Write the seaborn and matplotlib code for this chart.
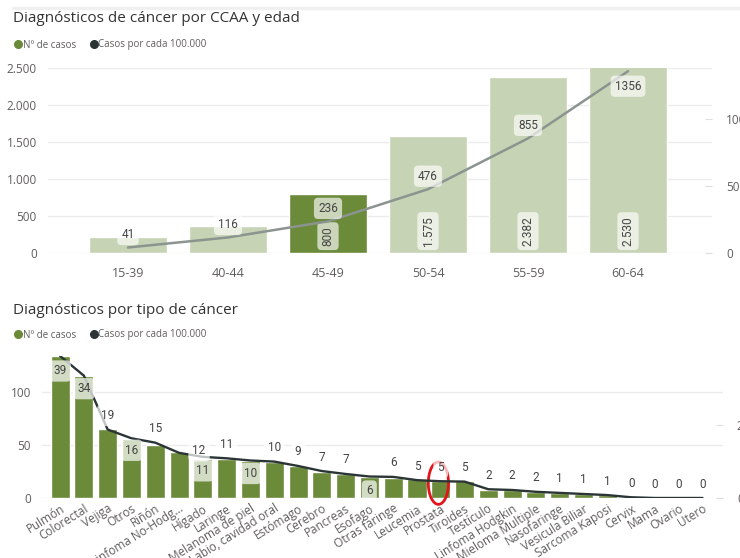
import numpy as np
import matplotlib
matplotlib.use('Agg')
import matplotlib.pyplot as plt
import seaborn as sns
from matplotlib.patches import Ellipse
from matplotlib.lines import Line2D

# Datos: diagnósticos por edad
edades = ['15-39', '40-44', '45-49', '50-54', '55-59', '60-64']
casos_edad = [220, 365, 800, 1575, 2382, 2530]
tasa_edad = [41, 116, 236, 476, 855, 1356]

# Datos: diagnósticos por tipo de cáncer
tipos = ['Pulmón', 'Colorectal', 'Vejiga', 'Otros', 'Riñón', 'Linfoma No-Hodg…', 'Hígado',
         'Laringe', 'Melanoma de piel', 'Labio, cavidad oral', 'Estómago', 'Cerebro',
         'Pancreas', 'Esofago', 'Otras faringe', 'Leucemia', 'Prostata', 'Tiroides',
         'Testículo', 'Linfoma Hodgkin', 'Mieloma Multiple', 'Nasofaringe', 'Vesicula Biliar',
         'Sarcoma Kaposi', 'Cervix', 'Mama', 'Ovario', 'Utero']
casos_tipo = [134, 115, 65, 56, 50, 43, 37, 37, 35, 34, 30, 25, 23, 20, 19, 18, 16, 16,
              8, 8, 6, 5, 4, 3, 0, 0, 0, 0]
tasa_tipo = [39.0, 33.6, 18.8, 16.4, 15.2, 12.4, 11.3, 10.9, 10.3, 10.0, 8.8, 7.4, 6.6,
             5.9, 5.8, 4.9, 4.6, 4.5, 2.4, 2.2, 1.7, 1.4, 1.1, 0.8, 0.2, 0.0, 0.0, 0.0]

# Estilo
VERDE = '#6b8a3a'
VERDE_CLARO = '#c6d3b4'
OSCURO = '#2b3535'
GRIS = '#605e5c'
REJILLA = '#ebebeb'
TXT_NUM = '#444444'
seleccion = '45-49'

sns.set_style('white')
plt.rcParams['font.family'] = ['Open Sans', 'DejaVu Sans']
FUENTE_NUM = ['Roboto', 'DejaVu Sans']

W, H = 740, 558
fig = plt.figure(figsize=(W / 100, H / 100), dpi=100)


def caja(alpha=0.6):
    return dict(boxstyle='round,pad=0.35,rounding_size=0.35', fc='white', ec='none', alpha=alpha)


def miles(v):
    return f'{v:,}'.replace(',', '.')


def redondeo(v):
    return str(int(v + 0.5))


def leyenda(y_px):
    handles = [Line2D([], [], marker='o', ls='', color=VERDE, ms=5.5, label='Nº de casos'),
               Line2D([], [], marker='o', ls='', color=OSCURO, ms=5.5, label='Casos por cada 100.000')]
    fig.legend(handles=handles, loc='center left', bbox_to_anchor=(15 / W, 1 - y_px / H),
               bbox_transform=fig.transFigure, ncol=2, frameon=False, fontsize=7,
               handlelength=0.6, handletextpad=0.2, columnspacing=1.5,
               borderpad=0, borderaxespad=0, labelcolor=GRIS)


def estilo_ejes(ax, axr):
    for a in (ax, axr):
        for s in a.spines.values():
            s.set_visible(False)
    ax.grid(axis='y', color=REJILLA, lw=1)
    ax.grid(axis='x', visible=False)
    ax.set_axisbelow(True)
    ax.set_xlabel('')
    ax.set_ylabel('')
    axr.set_ylabel('')
    ax.tick_params(axis='y', length=0, pad=8, labelsize=8.5, labelcolor=GRIS)
    ax.tick_params(axis='x', length=0, labelsize=8.5, labelcolor=GRIS)
    axr.tick_params(axis='y', direction='in', length=5, color='#dddddd', pad=10,
                    labelsize=8.5, labelcolor=GRIS)


# ---------- Gráfico superior: edad ----------
fig.text(13 / W, 1 - 18 / H, 'Diagnósticos de cáncer por CCAA y edad', fontsize=11,
         color='#333333', va='center')
leyenda(45)

ax1 = fig.add_axes([48 / W, 1 - 253 / H, (712 - 48) / W, 185 / H])
colores = [VERDE if e == seleccion else VERDE_CLARO for e in edades]
sns.barplot(x=edades, y=casos_edad, hue=edades, palette=colores, legend=False,
            width=0.78, saturation=1, ax=ax1)
ax1.set_xlim(-0.8, 5.84)
ax1.set_ylim(0, 2500)
ax1.set_yticks([0, 500, 1000, 1500, 2000, 2500])
ax1.set_yticklabels([miles(v) for v in [0, 500, 1000, 1500, 2000, 2500]])

ax1r = ax1.twinx()
sns.lineplot(x=np.arange(len(edades)), y=tasa_edad, ax=ax1r, color='#8c948f', lw=1.8)
ax1r.set_ylim(0, 1380)
ax1r.set_yticks([0, 500, 1000])
estilo_ejes(ax1, ax1r)
ax1.tick_params(axis='x', pad=10, labelsize=9)

for i, v in enumerate(casos_edad):
    if v > 500:
        ax1.annotate(miles(v), (i, 0), xytext=(0, 7), textcoords='offset pixels',
                     rotation=90, ha='center', va='bottom', fontsize=8.5, color=TXT_NUM,
                     family=FUENTE_NUM, bbox=caja(0.65))
for i, v in enumerate(tasa_edad):
    dy = -15 if i == len(tasa_edad) - 1 else 13
    ax1r.annotate(str(v), (i, v), xytext=(0, dy), textcoords='offset pixels',
                  ha='center', va='center', fontsize=8.5, color=TXT_NUM,
                  family=FUENTE_NUM, bbox=caja(0.65))

# ---------- Gráfico inferior: tipo de cáncer ----------
fig.text(13 / W, 1 - 310 / H, 'Diagnósticos por tipo de cáncer', fontsize=11,
         color='#333333', va='center')
leyenda(335)

ax2 = fig.add_axes([42 / W, 1 - 498 / H, (723 - 42) / W, 142 / H])
sns.barplot(x=tipos, y=casos_tipo, color=VERDE, width=0.8, saturation=1, ax=ax2)
ax2.set_xlim(-0.76, 27.86)
ax2.set_ylim(0, 134)
ax2.set_yticks([0, 50, 100])

ax2r = ax2.twinx()
sns.lineplot(x=np.arange(len(tipos)), y=tasa_tipo, ax=ax2r, color=OSCURO, lw=1.7)
ax2r.set_ylim(0, 39)
ax2r.set_yticks([0, 20])
estilo_ejes(ax2, ax2r)
ax2.tick_params(axis='x', pad=3)
ax2.set_xticks(range(len(tipos)))
ax2.set_xticklabels(tipos, rotation=32, ha='right', rotation_mode='anchor')

# desplazamientos de etiquetas (px): por defecto encima de la línea
desplaz = {0: (0, -15), 1: (0, -13), 3: (0, -12), 5: (20, 2), 6: (0, -14), 8: (0, -13)}
for i, v in enumerate(tasa_tipo):
    if tipos[i] == 'Esofago':
        ax2.annotate(redondeo(v), (i, 0), xytext=(0, 7), textcoords='offset pixels',
                     ha='center', va='center', fontsize=8.5, color=TXT_NUM,
                     family=FUENTE_NUM, bbox=caja(0.7))
        continue
    dx, dy = desplaz.get(i, (0, 14))
    ax2r.annotate(redondeo(v), (i, v), xytext=(dx, dy), textcoords='offset pixels',
                  ha='center', va='center', fontsize=8.5, color=TXT_NUM,
                  family=FUENTE_NUM, bbox=caja(0.7))

# marca roja sobre Prostata
ip = tipos.index('Prostata')
ax2.add_patch(Ellipse((ip - 0.1, 14), width=0.85, height=40, fill=False,
                      ec='#e3141c', lw=2, clip_on=False, zorder=10))

# línea gris superior del informe
fig.add_artist(Line2D([13 / W, 1], [1 - 8 / H, 1 - 8 / H], color='#f0f0f0', lw=2.5))

fig.savefig('out.png', dpi=100)
